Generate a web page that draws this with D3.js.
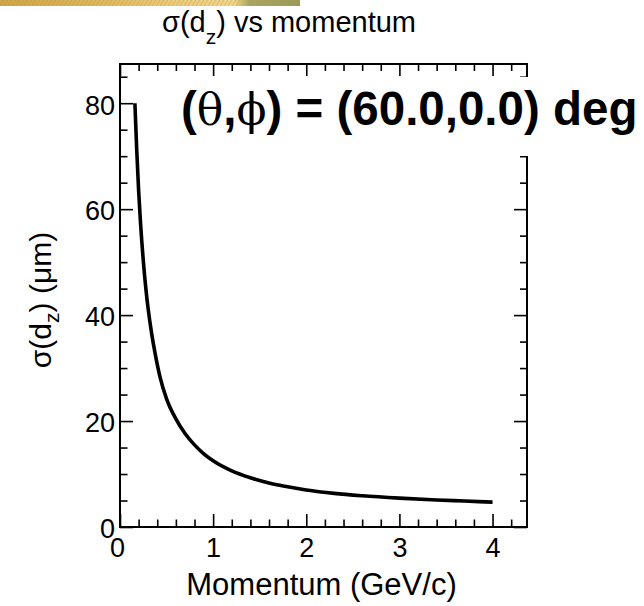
<!DOCTYPE html>
<html>
<head>
<meta charset="utf-8">
<script src="https://cdn.jsdelivr.net/npm/d3@7"></script>
<style>
  html, body { margin: 0; padding: 0; background: #fff; }
  svg { display: block; }
  text { font-family: "Liberation Sans", Arial, sans-serif; fill: #000; }
</style>
</head>
<body>
<svg id="chart" width="644" height="606"></svg>
<script>
// Resolution of the longitudinal impact parameter vs track momentum
const momentum = [0.16, 0.18, 0.20, 0.22, 0.25, 0.28, 0.30, 0.34, 0.38, 0.43, 0.50, 0.60, 0.70, 0.80, 0.90, 1.00, 1.20, 1.40, 1.60, 1.80, 2.00, 2.30, 2.60, 3.00, 3.40, 3.70, 4.00];
const sigmaDz  = [80.0, 71.0, 63.5, 57.5, 50.3, 44.6, 41.5, 36.5, 32.5, 28.3, 24.2, 20.4, 17.6, 15.5, 13.8, 12.5, 10.6, 9.3, 8.3, 7.6, 7.0, 6.35, 5.9, 5.45, 5.1, 4.9, 4.7];

const xMajorTicks = [0, 1, 2, 3, 4];
const xTickLabels = ["0", "1", "2", "3", "4"];
const xMinorTicks = [0.2, 0.4, 0.6, 0.8, 1.2, 1.4, 1.6, 1.8, 2.2, 2.4, 2.6, 2.8, 3.2, 3.4, 3.6, 3.8, 4.2];
const yMajorTicks = [0, 20, 40, 60, 80];
const yTickLabels = ["0", "20", "40", "60", "80"];
const yMinorTicks = [5, 10, 15, 25, 30, 35, 45, 50, 55, 65, 70, 75, 85];

const xDomain = [0, 4.37];
const yDomain = [0, 87.4];

const svg = d3.select("#chart");
const frame = { left: 120, right: 527, top: 64, bottom: 527 };

const x = d3.scaleLinear().domain(xDomain).range([frame.left, frame.right]);
const y = d3.scaleLinear().domain(yDomain).range([frame.bottom, frame.top]);

// header strip
const defs = svg.append("defs");
const grad = defs.append("linearGradient").attr("id", "strip").attr("x1", 0).attr("x2", 1);
[[0, "#c9a64a"], [0.3, "#d8b65c"], [0.55, "#e6cb7a"], [0.78, "#eed88e"], [0.83, "#aaa45e"], [1, "#9c9a58"]]
  .forEach(([o, c]) => grad.append("stop").attr("offset", o).attr("stop-color", c));
const pat = defs.append("pattern").attr("id", "hatch").attr("width", 4).attr("height", 6)
  .attr("patternUnits", "userSpaceOnUse");
pat.append("path").attr("d", "M0,6 L4,0").attr("stroke", "#e88a3a").attr("stroke-width", 1).attr("opacity", 0.5);
svg.append("rect").attr("x", 0).attr("y", 0).attr("width", 300).attr("height", 6).attr("fill", "url(#strip)");
svg.append("rect").attr("x", 0).attr("y", 0).attr("width", 240).attr("height", 6).attr("fill", "url(#hatch)");

// title
const title = svg.append("text").attr("x", 162).attr("y", 32).style("font-size", "29px");
title.append("tspan").text("σ(d");
title.append("tspan").attr("dy", 12).style("font-size", "21px").text("z");
title.append("tspan").attr("dy", -12).text(") vs momentum");

// axes with inward ticks on all four sides
function styleAxis(g) {
  g.selectAll(".domain").remove();
  g.selectAll(".tick line").attr("stroke", "#000").attr("stroke-width", 1.6);
}
const bottomMajor = svg.append("g").attr("transform", `translate(0,${frame.bottom})`)
  .call(d3.axisBottom(x).tickValues(xMajorTicks).tickSize(-13).tickPadding(11)
    .tickFormat((d, i) => xTickLabels[i]));
bottomMajor.call(styleAxis);
bottomMajor.selectAll("text").style("font-size", "27px").attr("font-family", null)
  .attr("dx", (d, i) => i === 0 ? -3 : 0);
svg.append("g").attr("transform", `translate(0,${frame.bottom})`)
  .call(d3.axisBottom(x).tickValues(xMinorTicks).tickSize(-7.5).tickFormat(""))
  .call(styleAxis);

const leftMajor = svg.append("g").attr("transform", `translate(${frame.left},0)`)
  .call(d3.axisLeft(y).tickValues(yMajorTicks).tickSize(-13).tickPadding(5)
    .tickFormat((d, i) => yTickLabels[i]));
leftMajor.call(styleAxis);
leftMajor.selectAll("text").style("font-size", "27px").attr("font-family", null).attr("dy", "0.40em");
svg.append("g").attr("transform", `translate(${frame.left},0)`)
  .call(d3.axisLeft(y).tickValues(yMinorTicks).tickSize(-7.5).tickFormat(""))
  .call(styleAxis);

svg.append("g").attr("transform", `translate(0,${frame.top})`)
  .call(d3.axisTop(x).tickValues(xMajorTicks).tickSize(-12).tickFormat(""))
  .call(styleAxis);
svg.append("g").attr("transform", `translate(0,${frame.top})`)
  .call(d3.axisTop(x).tickValues(xMinorTicks).tickSize(-7).tickFormat(""))
  .call(styleAxis);
svg.append("g").attr("transform", `translate(${frame.right},0)`)
  .call(d3.axisRight(y).tickValues(yMajorTicks).tickSize(-13).tickFormat(""))
  .call(styleAxis);
svg.append("g").attr("transform", `translate(${frame.right},0)`)
  .call(d3.axisRight(y).tickValues(yMinorTicks).tickSize(-7).tickFormat(""))
  .call(styleAxis);

svg.append("rect")
  .attr("x", frame.left).attr("y", frame.top)
  .attr("width", frame.right - frame.left).attr("height", frame.bottom - frame.top)
  .attr("fill", "none").attr("stroke", "#000").attr("stroke-width", 2);

// resolution curve
const line = d3.line()
  .x((d, i) => x(momentum[i]))
  .y(d => y(d))
  .curve(d3.curveMonotoneX);
svg.append("path")
  .datum(sigmaDz)
  .attr("d", line)
  .attr("fill", "none")
  .attr("stroke", "#000")
  .attr("stroke-width", 3.6)
  .attr("stroke-linejoin", "round");

// axis titles
svg.append("text")
  .attr("x", 321.5).attr("y", 595)
  .attr("text-anchor", "middle")
  .style("font-size", "31px")
  .text("Momentum (GeV/c)");

const yTitle = svg.append("text")
  .attr("transform", "translate(51,300) rotate(-90)")
  .attr("text-anchor", "middle")
  .style("font-size", "30px");
yTitle.append("tspan").text("σ(d");
yTitle.append("tspan").attr("dy", 8).style("font-size", "21px").text("z");
yTitle.append("tspan").attr("dy", -8).text(") (μm)");

// angle label on a white box
svg.append("rect").attr("x", 176).attr("y", 77).attr("width", 468).attr("height", 79).attr("fill", "#fff");
const label = svg.append("text").attr("x", 181).attr("y", 125)
  .style("font-size", "47.5px").style("font-weight", "bold");
label.append("tspan").text("(");
label.append("tspan").style("font-family", "'DejaVu Serif', serif").style("font-weight", "normal").style("font-size", "44px").text("θ");
label.append("tspan").text(",");
label.append("tspan").style("font-family", "'DejaVu Serif', serif").style("font-weight", "normal").style("font-size", "44px").text("ϕ");
label.append("tspan").text(") = (60.0,0.0) deg");
</script>
</body>
</html>
